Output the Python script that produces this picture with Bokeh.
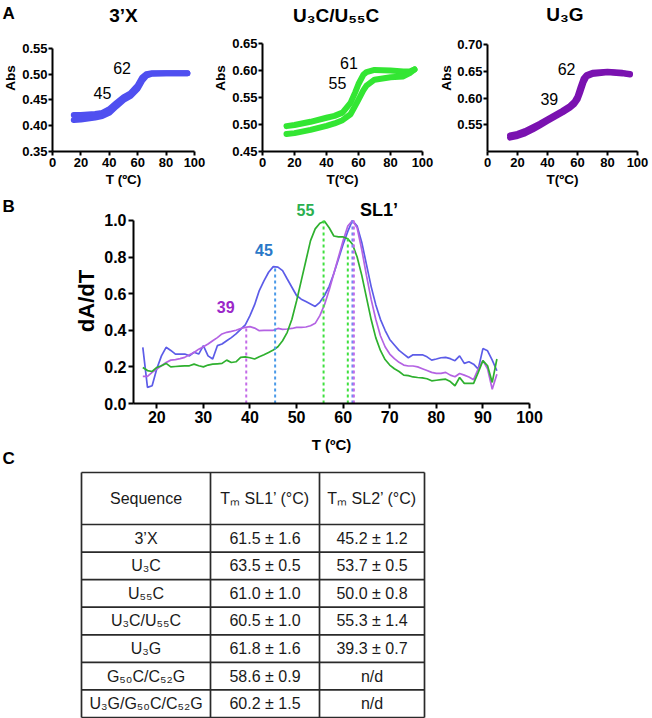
from bokeh.plotting import figure
from bokeh.models import Range1d, FixedTicker, Label, NumeralTickFormatter, ColumnDataSource, Spacer
from bokeh.layouts import column, row
from bokeh.embed import file_html
from bokeh.resources import INLINE
from bokeh.core.properties import value

FONT = "Liberation Sans"

# ---------------- Panel A: melting curves (two branches each) ----------------
t_3x = [15, 20, 25, 30, 35, 40, 45, 50, 55, 60, 63, 66, 70, 80, 90, 95]
abs_3x_up = [0.421, 0.421, 0.422, 0.423, 0.425, 0.432, 0.444, 0.455, 0.463, 0.478, 0.493, 0.500, 0.502, 0.502, 0.502, 0.502]
abs_3x_dn = [0.411, 0.412, 0.414, 0.416, 0.419, 0.425, 0.438, 0.450, 0.458, 0.472, 0.487, 0.497, 0.501, 0.502, 0.502, 0.502]

t_u3c = [15, 20, 30, 40, 45, 50, 55, 58, 60, 63, 65, 70, 80, 88, 92, 95]
abs_u3c_up = [0.497, 0.499, 0.505, 0.5125, 0.516, 0.522, 0.540, 0.560, 0.575, 0.592, 0.597, 0.601, 0.600, 0.598, 0.598, 0.602]
abs_u3c_dn = [0.4825, 0.484, 0.490, 0.4975, 0.502, 0.508, 0.519, 0.535, 0.546, 0.563, 0.572, 0.583, 0.5875, 0.589, 0.595, 0.602]

t_u3g = [15, 20, 25, 30, 35, 40, 45, 50, 55, 58, 60, 62, 64, 66, 70, 80, 90, 95]
abs_u3g_up = [0.530, 0.533, 0.538, 0.545, 0.552, 0.560, 0.568, 0.576, 0.585, 0.593, 0.603, 0.620, 0.636, 0.643, 0.647, 0.649, 0.647, 0.645]
abs_u3g_dn = [0.526, 0.529, 0.534, 0.541, 0.549, 0.557, 0.565, 0.573, 0.582, 0.589, 0.597, 0.612, 0.629, 0.640, 0.645, 0.648, 0.646, 0.644]

# ---------------- Panel B: first derivatives ----------------
t_deriv = list(range(17, 94))
d_3x = [0.307, 0.088, 0.097, 0.19, 0.26, 0.307, 0.29, 0.27, 0.27, 0.27,
        0.26, 0.28, 0.27, 0.316, 0.26, 0.243, 0.316, 0.325, 0.343, 0.36,
        0.38, 0.405, 0.43, 0.48, 0.54, 0.617, 0.67, 0.717, 0.748, 0.745,
        0.726, 0.68, 0.635, 0.59, 0.57, 0.557, 0.544, 0.53, 0.553, 0.59,
        0.64, 0.71, 0.79, 0.87, 0.94, 1.0, 0.97, 0.88, 0.76, 0.64,
        0.54, 0.46, 0.40, 0.35, 0.32, 0.29, 0.27, 0.25, 0.266, 0.266,
        0.266, 0.255, 0.237, 0.243, 0.25, 0.252, 0.245, 0.234, 0.26, 0.219,
        0.228, 0.215, 0.188, 0.30, 0.288, 0.237, 0.179]
d_u3g = [0.148, 0.148, 0.17, 0.188, 0.206, 0.224, 0.237, 0.24, 0.245, 0.252,
         0.266, 0.279, 0.297, 0.31, 0.325, 0.343, 0.36, 0.38, 0.389, 0.394,
         0.40, 0.41, 0.416, 0.42, 0.412, 0.398, 0.40, 0.40, 0.40, 0.41,
         0.405, 0.407, 0.41, 0.416, 0.416, 0.418, 0.425, 0.438, 0.48, 0.54,
         0.62, 0.71, 0.80, 0.89, 0.97, 1.0, 0.96, 0.84, 0.70, 0.57,
         0.46, 0.37, 0.31, 0.27, 0.245, 0.225, 0.21, 0.205, 0.205, 0.2,
         0.19, 0.18, 0.17, 0.165, 0.165, 0.17, 0.155, 0.146, 0.164, 0.155,
         0.145, 0.13, 0.19, 0.234, 0.19, 0.078, 0.16]
d_u3c = [0.197, 0.18, 0.175, 0.197, 0.206, 0.219, 0.2, 0.202, 0.204, 0.206,
         0.206, 0.215, 0.206, 0.2, 0.21, 0.215, 0.217, 0.219, 0.237, 0.224,
         0.228, 0.252, 0.255, 0.25, 0.243, 0.255, 0.266, 0.279, 0.292, 0.31,
         0.343, 0.389, 0.46, 0.56, 0.67, 0.78, 0.89, 0.954, 0.985, 0.996,
         0.96, 0.915, 0.91, 0.91, 0.90, 0.87, 0.80, 0.70, 0.58, 0.46,
         0.36, 0.29, 0.24, 0.21, 0.19, 0.175, 0.155, 0.152, 0.145, 0.142,
         0.14, 0.135, 0.124, 0.127, 0.13, 0.133, 0.12, 0.097, 0.142, 0.11,
         0.11, 0.11, 0.17, 0.234, 0.206, 0.115, 0.243]

# Tm markers (dashed lines)
tm_x = [39.2, 45.4, 55.8, 61.0, 62.0, 62.3]
tm_y = [0.416, 0.745, 1.0, 0.91, 1.0, 1.0]
tm_colors = ["#c46be8", "#4a9ae8", "#3ee03e", "#3ee03e", "#6b8cf0", "#c46be8"]

# ---------------- Panel C: table ----------------
seq_names = ["3’X", "U₃C", "U₅₅C", "U₃C/U₅₅C", "U₃G", "G₅₀C/C₅₂G", "U₃G/G₅₀C/C₅₂G"]
tm1_mean = [61.5, 63.5, 61.0, 60.5, 61.8, 58.6, 60.2]
tm1_sd = [1.6, 0.5, 1.0, 1.0, 1.6, 0.9, 1.5]
tm2_mean = [45.2, 53.7, 50.0, 55.3, 39.3, None, None]
tm2_sd = [1.2, 0.5, 0.8, 1.4, 0.7, None, None]
headers = ["Sequence", "Tₘ SL1’ (°C)", "Tₘ SL2’ (°C)"]
panel_letters = ["A", "B", "C"]


def style_axes(p, tick_size, label_size, tick_out=4, lw=2):
    for ax in p.axis:
        ax.axis_line_width = lw
        ax.axis_line_color = "black"
        ax.major_tick_line_width = lw
        ax.major_tick_line_color = "black"
        ax.major_tick_out = tick_out
        ax.major_tick_in = 0
        ax.minor_tick_line_color = None
        ax.major_label_text_font = FONT
        ax.major_label_text_font_style = "bold"
        ax.major_label_text_font_size = tick_size
        ax.major_label_text_color = "black"
        ax.axis_label_text_font = FONT
        ax.axis_label_text_font_style = "bold"
        ax.axis_label_text_font_size = label_size
        ax.axis_label_text_color = "black"
        ax.major_label_standoff = 2
        ax.axis_label_standoff = 2


def melt_panel(width, bl, br, y_lo, y_hi, ybounds, yticks, xlabel, t, up, dn, color,
               title, title_xy, anns):
    p = figure(width=width, height=195, x_range=Range1d(0, 100), y_range=Range1d(y_lo, y_hi),
               output_backend="svg", toolbar_location=None,
               min_border_left=bl, min_border_right=br, min_border_top=4, min_border_bottom=44)
    p.grid.visible = False
    p.outline_line_color = None
    p.line(t, up, color=color, line_width=6, line_cap="round", line_join="round")
    p.line(t, dn, color=color, line_width=6, line_cap="round", line_join="round")
    p.xaxis.ticker = FixedTicker(ticks=[0, 20, 40, 60, 80, 100])
    p.yaxis.ticker = FixedTicker(ticks=yticks)
    p.yaxis.bounds = ybounds
    p.yaxis.formatter = NumeralTickFormatter(format="0.00")
    p.xaxis.axis_label = xlabel
    p.yaxis.axis_label = "Abs"
    style_axes(p, "13px", "13.5px")
    p.yaxis.major_label_standoff = 1
    p.yaxis.axis_label_standoff = 1
    p.add_layout(Label(x=title_xy[0], y=title_xy[1], text=title, text_font=FONT,
                       text_font_style="bold", text_font_size="19px", text_align="center",
                       text_baseline="middle", text_color="black"))
    for (ax_, ay_, txt) in anns:
        p.add_layout(Label(x=ax_, y=ay_, text=txt, text_font=FONT, text_font_size="16px",
                           text_align="center", text_baseline="middle", text_color="black"))
    return p


pa1 = melt_panel(210, 48, 16, 0.35, 0.6354, (0.35, 0.55), [0.35, 0.40, 0.45, 0.50, 0.55], "T (ºC)",
                 t_3x, abs_3x_up, abs_3x_dn, "#4f4ff0", "3’X", (50, 0.614),
                 [(49, 0.513, "62"), (35.2, 0.464, "45")])

pa2 = melt_panel(226, 50, 14, 0.45, 0.7222, (0.45, 0.65), [0.45, 0.50, 0.55, 0.60, 0.65], "T(ºC)",
                 t_u3c, abs_u3c_up, abs_u3c_dn, "#33e633", "U₃C/U₅₅C", (46, 0.702),
                 [(54, 0.6136, "61"), (46.8, 0.576, "55")])

pa3 = melt_panel(216, 44, 15, 0.50, 0.7748, (0.50, 0.70), [0.55, 0.60, 0.65, 0.70], "T(ºC)",
                 t_u3g, abs_u3g_up, abs_u3g_dn, "#7a12b0", "U₃G", (51.6, 0.756),
                 [(52.7, 0.6546, "62"), (41.2, 0.5985, "39")])
pa3.yaxis.axis_label_standoff = 0

# ---------------- Panel B figure ----------------
PB_H = 264
pb = figure(width=652, height=PB_H, x_range=Range1d(15, 100), y_range=Range1d(0, 1.12),
            output_backend="svg", toolbar_location=None,
            min_border_left=133, min_border_right=123, min_border_top=3, min_border_bottom=56)
pb.grid.visible = False
pb.outline_line_color = None
pb.line(t_deriv, d_3x, color="#5c5ce8", line_width=1.7)
pb.line(t_deriv, d_u3g, color="#b463e3", line_width=1.7)
pb.line(t_deriv, d_u3c, color="#2eb02e", line_width=1.7)
tm_src = ColumnDataSource(dict(x=tm_x, y0=[0] * len(tm_x), y1=tm_y, c=tm_colors))
pb.segment(x0="x", y0="y0", x1="x", y1="y1", color="c", line_width=2, line_dash="3 3", source=tm_src)
pb.xaxis.ticker = FixedTicker(ticks=[20, 30, 40, 50, 60, 70, 80, 90, 100])
pb.yaxis.ticker = FixedTicker(ticks=[0.0, 0.2, 0.4, 0.6, 0.8, 1.0])
pb.yaxis.bounds = (0, 1.0)
pb.yaxis.formatter = NumeralTickFormatter(format="0.0")
pb.xaxis.axis_label = "T (ºC)"
pb.yaxis.axis_label = "dA/dT"
style_axes(pb, "16px", "15px", tick_out=5)
pb.yaxis.axis_label_text_font_size = "22px"
pb.xaxis.axis_label_standoff = 10
for (lx, ly, txt, col, fs) in [(34.8, 0.529, "39", "#9b27c9", "16px"),
                               (43.0, 0.836, "45", "#2a78c8", "16px"),
                               (51.9, 1.058, "55", "#2bb050", "16px"),
                               (67.7, 1.055, "SL1’", "black", "18px")]:
    pb.add_layout(Label(x=lx, y=ly, text=txt, text_font=FONT, text_font_style="bold",
                        text_font_size=fs, text_color=col, text_align="center",
                        text_baseline="middle"))

# ---------------- Overlay (page coordinates): panel letters + table ----------------
PW, PH = 652, 718
ov = figure(width=PW, height=PH, x_range=Range1d(0, PW), y_range=Range1d(PH, 0),
            output_backend="svg", toolbar_location=None,
            x_axis_location=None, y_axis_location=None, min_border=0)
ov.grid.visible = False
ov.outline_line_color = None
ov.background_fill_alpha = 0
ov.border_fill_alpha = 0
ov.margin = (-PH, 0, 0, 0)

letter_x = [2, 2, 2]
letter_y = [12.5, 206, 458]
ov.text(x=letter_x, y=letter_y, text=panel_letters, text_font=value(FONT), text_font_style="bold",
        text_font_size="17px", text_align="left", text_baseline="middle", text_color="black")

col_edges = [81, 210, 319, 424]
table_top = 472
header_h = 52
row_h = 27.57
row_edges = [table_top, table_top + header_h] + \
    [table_top + header_h + row_h * (i + 1) for i in range(len(seq_names))]

hx0 = [col_edges[0]] * len(row_edges)
hx1 = [col_edges[-1]] * len(row_edges)
ov.segment(x0=hx0, y0=row_edges, x1=hx1, y1=row_edges, color="#2a2a2a", line_width=1.7)
vy0 = [row_edges[0]] * len(col_edges)
vy1 = [row_edges[-1]] * len(col_edges)
ov.segment(x0=col_edges, y0=vy0, x1=col_edges, y1=vy1, color="#2a2a2a", line_width=1.7)

col_centers = [(col_edges[i] + col_edges[i + 1]) / 2 for i in range(3)]
row_centers = [(row_edges[i] + row_edges[i + 1]) / 2 for i in range(len(row_edges) - 1)]


def fmt(m, s):
    return "n/d" if m is None else f"{m:.1f} ± {s:.1f}"


cells_x, cells_y, cells_t = [], [], []
for j, h in enumerate(headers):
    cells_x.append(col_centers[j]); cells_y.append(row_centers[0]); cells_t.append(h)
for i, name in enumerate(seq_names):
    vals = [name, fmt(tm1_mean[i], tm1_sd[i]), fmt(tm2_mean[i], tm2_sd[i])]
    for j, v in enumerate(vals):
        cells_x.append(col_centers[j]); cells_y.append(row_centers[i + 1]); cells_t.append(v)

ov.text(x=cells_x, y=cells_y, text=cells_t, text_font=value(FONT), text_font_size="16px",
        text_align="center", text_baseline="middle", text_color="#1a1a1a")

main = column(row(pa1, pa2, pa3), pb, Spacer(width=PW, height=PH - 195 - PB_H))
layout = column(main, ov)
open("out.html", "w").write(file_html(layout, INLINE))
